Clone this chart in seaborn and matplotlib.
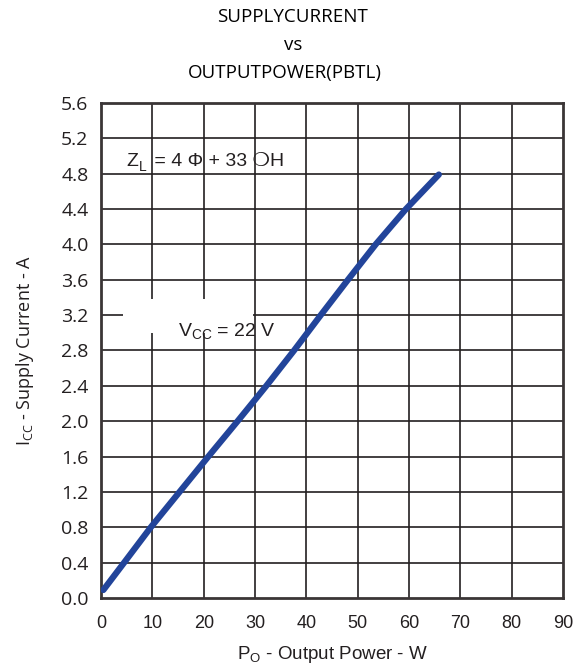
import numpy as np
import pandas as pd
import matplotlib
matplotlib.use("Agg")
import matplotlib.pyplot as plt
from matplotlib.patches import Rectangle
import seaborn as sns

# Данные
output_power = [0.45, 4.5, 9.7, 15.3, 20.9, 26.6, 32.2, 37.6, 42.8, 48.1, 53.5, 59.4, 65.8]
supply_current = [0.09, 0.4, 0.8, 1.2, 1.6, 2.0, 2.4, 2.8, 3.2, 3.6, 4.0, 4.4, 4.79]
x_ticks = [0, 10, 20, 30, 40, 50, 60, 70, 80, 90]
y_ticks = [0.0, 0.4, 0.8, 1.2, 1.6, 2.0, 2.4, 2.8, 3.2, 3.6, 4.0, 4.4, 4.8, 5.2, 5.6]

df = pd.DataFrame({"po": output_power, "icc": supply_current})

sns.set_style("white")
plt.rcParams['font.family'] = ['Liberation Sans', 'DejaVu Sans']

fig = plt.figure(figsize=(5.74, 6.65), dpi=100)
ax = fig.add_axes([0.176, 0.1008, 0.805, 0.7444])

grid_col = "#231f20"
for v in x_ticks[1:-1]:
    ax.axvline(v, color=grid_col, lw=1.2, zorder=1)
for v in y_ticks[1:-1]:
    ax.axhline(v, color=grid_col, lw=1.2, zorder=1)

sns.lineplot(data=df, x="po", y="icc", ax=ax, color="#22449a", lw=4.5,
             solid_capstyle="round", zorder=3)

ax.set_xlim(0, 90)
ax.set_ylim(0, 5.6)
ax.set_xticks(x_ticks)
ax.set_yticks(y_ticks)
ax.set_xticklabels([str(v) for v in x_ticks], fontsize=13, color="#231f20")
ax.set_yticklabels([f"{v:.1f}" for v in y_ticks], fontsize=14,
                   family=['Open Sans', 'DejaVu Sans'], color="#231f20")
ax.tick_params(axis="x", length=0, pad=12)
ax.tick_params(axis="y", length=0, pad=9)
for s in ax.spines.values():
    s.set_color("#3a3536")
    s.set_linewidth(2)

ax.set_xlabel(r"P$_\mathregular{O}$ - Output Power - W", fontsize=13.5, color="#231f20", labelpad=9)
ax.set_ylabel(r"I$_\mathregular{CC}$ - Supply Current - A", fontsize=13,
              family=['Open Sans', 'DejaVu Sans'], color="#231f20", labelpad=18)

# белая плашка под подписью V_CC
ax.add_patch(Rectangle((4.3, 3.0), 25.3, 0.38, facecolor="white", edgecolor="none", zorder=2))
ax.text(15, 2.96, r"V$_\mathregular{CC}$ = 22 V", fontsize=14, color="#231f20", zorder=4)

# Z_L собирается из кусков, чтобы символы брались из DejaVu Sans
t1 = ax.text(5, 4.84, "Z", fontsize=14, color="#231f20", va="bottom", zorder=4)
t2 = ax.annotate("L", xy=(1, 0), xycoords=t1, xytext=(0.5, -3), textcoords="offset points",
                 fontsize=10, color="#231f20", va="bottom", zorder=4)
ax.annotate(" = 4 Φ + 33 ❍H", xy=(1, 0), xycoords=(t2, t1), xytext=(1.5, 0), textcoords="offset points",
            fontsize=14, color="#231f20", va="bottom", zorder=4,
            family=['Liberation Sans', 'DejaVu Sans'])

tfont = dict(fontsize=13.5, family=['Open Sans', 'DejaVu Sans'], color="black", ha="center", va="center")
fig.text(0.51, 0.974, "SUPPLYCURRENT", **tfont)
fig.text(0.51, 0.932, "vs", **tfont)
fig.text(0.497, 0.890, "OUTPUTPOWER(PBTL)", **tfont)

plt.savefig("out.png", dpi=100, facecolor="white")
